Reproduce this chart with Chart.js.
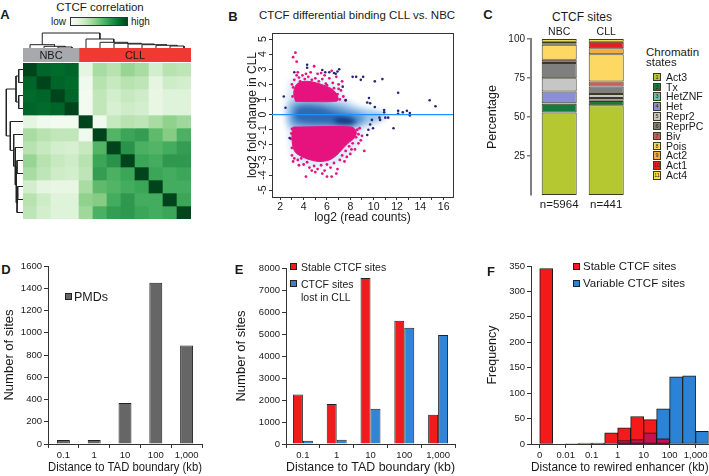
<!DOCTYPE html>
<html><head><meta charset="utf-8">
<script src="https://cdn.jsdelivr.net/npm/chart.js@4.4.1/dist/chart.umd.min.js"></script>
<style>
html,body{margin:0;padding:0;background:#fff}
body{position:relative;width:709px;height:476px;overflow:hidden;font-family:"Liberation Sans",Arial,Helvetica,sans-serif;color:#1a1a1a}
canvas{position:absolute}
.tx{position:absolute;white-space:nowrap;line-height:1}
.sw{position:absolute;box-sizing:border-box;border:1px solid #222}
</style></head><body>
<script>
// ================= DATA =================
// Panel A: CTCF correlation heatmap
const heatSamples=['NBC 1','NBC 2','NBC 3','NBC 4','CLL 1','CLL 2','CLL 3','CLL 4','CLL 5','CLL 6','CLL 7','CLL 8'];
const sampleGroups=['NBC','CLL'];
const groupSizes=[4,8];
const corrMatrix=[
[1.00,0.90,0.88,0.90,0.12,0.35,0.30,0.40,0.35,0.20,0.30,0.28],
[0.90,1.00,0.90,0.88,0.05,0.30,0.25,0.30,0.28,0.12,0.22,0.20],
[0.88,0.90,1.00,0.90,0.03,0.27,0.20,0.25,0.22,0.10,0.15,0.15],
[0.90,0.88,0.90,1.00,0.03,0.27,0.18,0.22,0.20,0.10,0.15,0.15],
[0.12,0.05,0.03,0.03,1.00,0.05,0.25,0.30,0.28,0.35,0.42,0.38],
[0.35,0.30,0.27,0.27,0.05,1.00,0.58,0.65,0.68,0.55,0.45,0.60],
[0.30,0.25,0.20,0.18,0.25,0.58,1.00,0.72,0.60,0.58,0.62,0.68],
[0.40,0.30,0.25,0.22,0.30,0.65,0.72,1.00,0.65,0.62,0.70,0.70],
[0.35,0.28,0.22,0.20,0.28,0.68,0.60,0.65,1.00,0.65,0.62,0.65],
[0.20,0.12,0.10,0.10,0.35,0.55,0.58,0.62,0.65,1.00,0.62,0.62],
[0.30,0.22,0.15,0.15,0.42,0.45,0.62,0.70,0.62,0.62,1.00,0.65],
[0.28,0.20,0.15,0.15,0.38,0.60,0.68,0.70,0.65,0.62,0.65,1.00]];
// dendrogram merges: [childA, childB, height]; ids 1..12 leaves, 13.. merged nodes
const colMerges=[[3,4,1.0],[2,13,1.7],[1,14,3.3],[11,12,2.0],[10,16,2.7],[9,17,3.3],[8,18,4.0],[7,19,4.7],[6,20,5.7],[5,21,9.0],[15,22,15.0]];
const rowMerges=[[1,2,4.3],[3,4,4.3],[13,14,7.0],[10,11,5.3],[16,12,6.0],[8,9,6.0],[18,17,6.7],[7,19,7.7],[6,20,9.3],[5,21,12.7],[15,22,16.7]];

// Panel B: MA plot (log2 read counts, log2 fold change)
const maDensityLevels=[
[[2.7,2.3],[4,2.5],[5.5,2.3],[6.8,2.0],[7.5,1.3],[8.5,0.7],[10,0.4],[11.3,0.1],[11,-0.4],[9.2,-1.0],[8.9,-1.8],[8,-2.6],[6.8,-3.3],[5,-3.5],[3.5,-3.2],[2.8,-2.5],[2.6,-1.2],[2.3,0],[2.5,1.2],[2.7,2.3]],
[[2.5,0.2],[2.8,0.9],[3.5,1.1],[5,1.05],[6.5,0.95],[7.6,0.75],[8.6,0.45],[9.8,0.25],[10.8,0.05],[10.5,-0.35],[9.3,-0.7],[8.4,-0.95],[7,-1.0],[5,-1.0],[3.5,-1.0],[2.7,-0.8],[2.5,0.2]],
[[2.9,0.15],[3.1,0.6],[3.8,0.8],[5.5,0.75],[6.8,0.55],[7.8,0.3],[8.8,0.05],[9.3,-0.2],[8.9,-0.55],[7.8,-0.8],[6,-0.82],[4,-0.82],[3.1,-0.65],[2.9,-0.3],[2.9,0.15]],
[[3.3,0.2],[3.6,0.5],[4.5,0.55],[5.5,0.45],[6.5,0.2],[7.3,0.0],[8.2,-0.15],[8.6,-0.4],[8.3,-0.65],[7.2,-0.7],[6,-0.6],[4.5,-0.55],[3.5,-0.4],[3.2,-0.1],[3.3,0.2]],
[[6.6,-0.3],[7.2,-0.18],[8.0,-0.25],[8.4,-0.45],[8.1,-0.65],[7.3,-0.65],[6.7,-0.5],[6.6,-0.3]]];
const maUpperCore=[[3.3,0.88],[3.15,1.4],[3.3,1.9],[3.7,2.15],[4.4,2.2],[5.1,2.1],[5.7,1.95],[6.3,1.75],[6.8,1.4],[6.95,0.95],[6.4,0.86],[5,0.86],[3.3,0.88]];
const maLowerCore=[[3.1,-0.82],[8.1,-0.82],[8.5,-1.1],[8.4,-1.5],[7.8,-1.9],[7.3,-2.3],[6.8,-2.7],[6.2,-3.0],[5.4,-3.1],[4.6,-3.0],[3.9,-2.8],[3.3,-2.5],[3.05,-2.0],[3.0,-1.3],[3.1,-0.82]];
const maSigPoints=[[3.1,3.8],[3.3,4.1],[3.4,3.5],[3.5,2.8],[3.2,2.3],[3.6,2.45],[3.9,2.6],[4.1,2.35],[4.4,2.5],[4.7,2.3],[5.0,2.4],[5.3,2.2],[5.6,2.35],[5.9,2.05],[6.2,2.4],[6.5,2.1],[6.8,2.5],[7.0,2.0],[7.2,1.6],[6.9,1.35],[7.4,1.2],[7.6,0.95],[6.6,1.75],[6.0,1.95],[3.1,1.8],[3.05,1.2],[3.0,2.0],[4.6,2.8],[5.2,2.7],[5.8,2.6],[6.4,2.9],[4.9,3.2],[3.7,2.2],[7.1,1.0],[5.5,2.75],[3.4,2.6],[4.2,2.7],[7.3,2.2],[6.1,1.5],[7.0,1.7],
[2.9,-1.6],[3.0,-2.2],[3.0,-2.7],[3.2,-2.9],[3.5,-3.0],[3.8,-2.9],[4.0,-3.3],[4.3,-3.15],[4.5,-3.5],[4.9,-3.4],[5.2,-3.6],[5.5,-3.35],[5.8,-3.7],[6.0,-3.3],[6.3,-3.5],[6.6,-3.2],[6.9,-3.6],[7.1,-3.0],[7.3,-2.7],[7.6,-2.4],[7.9,-2.1],[8.2,-1.9],[8.5,-1.5],[8.7,-1.3],[8.9,-1.7],[8.4,-2.3],[9.2,-2.4],[4.2,-4.1],[6.0,-4.1],[6.4,-4.1],[6.8,-3.9],[5.0,-3.8],[3.6,-3.35],[7.5,-3.1],[8.0,-2.6],[8.6,-1.0],[8.8,-0.9],[3.0,-0.95],[5.6,-3.9],[4.7,-3.7],[2.95,-1.25],[3.1,-3.1],[7.7,-2.8],[8.1,-2.3],[8.7,-1.9],[9.0,-1.4]];
const maOtherPoints=[[2.3,1.2],[2.45,0.45],[3.2,2.8],[4.3,3.3],[4.3,3.1],[5.6,2.95],[5.85,2.8],[6.2,2.8],[6.6,2.75],[6.75,2.7],[7.05,3.0],[6.9,2.85],[7.35,1.85],[7.6,0.95],[8.2,2.5],[8.5,2.5],[8.9,2.3],[9.1,2.5],[9.45,0.8],[9.6,1.1],[9.7,0.75],[10.1,0.5],[10.1,2.2],[10.75,2.35],[10.9,0.3],[10.9,0.15],[10.5,-0.2],[10.55,-0.35],[11.0,-0.2],[11.25,-0.2],[12.1,1.45],[12.1,0.25],[12.1,0.05],[12.5,0.15],[12.85,0.25],[13.1,0.1],[13.1,-0.05],[11.7,-0.9],[14.8,0.95],[15.3,0.55],[9.85,-0.35],[9.7,-0.65],[9.95,-0.9],[9.55,-1.0],[9.45,-1.35],[2.8,-1.55]];
const bXRange=[1.29,16.8], bYRange=[-5.45,5.4];

// Panel C: chromatin states of CTCF sites (%)
const chromStates=['Act3','Tx','HetZNF','Het','Repr2','ReprPC','Biv','Pois','Act2','Act1','Act4'];
const cGroups=['NBC','CLL'];
const cCounts=['n=5964','n=441'];
const nbcPct=[52.9,5.6,0.3,7.5,8.6,9.7,2.1,9.6,0.6,1.3,1.8];
const cllPct=[57.6,2.6,0.2,1.7,2.6,4.8,3.2,17.6,3.8,4.1,1.8];
const cTicks=[25,50,75,100];

// Panel D/E: distance to TAD boundary
const tadBins=['0.1','1','10','100','1,000'];
const pmdCounts=[35,35,368,1450,885];
const stableTad=[2250,1820,7550,5600,1330];
const lostTad=[150,190,1600,5280,4950];

// Panel F: distance to rewired enhancer histogram (13 half-decade bins)
const enhTickLabels=['0','0.01','0.1','1','10','100','1,000'];
const enhTickBins=[0,2,4,6,8,10,12];
const stableEnh=[345,0,1,2,2,22,32,54,48,10,0,0,0];
const variableEnh=[0,0,0,0,1,0,6.5,8.5,22,69,132,134,25];

// ================= STYLE =================
const greenStops=['#f7fcf5','#e5f5e0','#c7e9c0','#a1d99b','#74c476','#41ab5d','#238b45','#006d2c','#00441b'];
const stateColors=['#b5c832','#167a3c','#66c2a5','#8b90d0','#c6c6c6','#7f7f7f','#cd5c5c','#fdd862','#f4ad3c','#e3201c','#f6e531'];
const FONT='"Liberation Sans", Arial, Helvetica, sans-serif';
Chart.defaults.font.family=FONT;
Chart.defaults.font.size=10;
Chart.defaults.color='#1a1a1a';
Chart.defaults.animation=false;
Chart.defaults.responsive=false;
Chart.defaults.devicePixelRatio=1;
Chart.defaults.events=[];
Chart.defaults.plugins.legend.display=false;
Chart.defaults.plugins.tooltip.enabled=false;

function canvas(l,t,w,h,extra){const c=document.createElement('canvas');c.width=w;c.height=h;c.style.cssText=`left:${l}px;top:${t}px;width:${w}px;height:${h}px;${extra||''}`;document.body.appendChild(c);return c.getContext('2d');}
function text(s,x,y,size,o={}){const d=document.createElement('div');d.className='tx';d.textContent=s;
  d.style.cssText=`left:${x}px;top:${y}px;font-size:${size}px;font-weight:${o.bold?'bold':'normal'};color:${o.color||'#1a1a1a'};transform:translate(${o.ax===undefined?-50:o.ax}%,-50%)${o.rot?' rotate(-90deg)':''}`;
  document.body.appendChild(d);return d;}
function swatch(x,y,w,h,color){const d=document.createElement('div');d.className='sw';d.style.cssText=`left:${x}px;top:${y}px;width:${w}px;height:${h}px;background:${color}`;document.body.appendChild(d);return d;}
function hex2rgb(h){return [1,3,5].map(i=>parseInt(h.slice(i,i+2),16));}
function greens(v){const s=greenStops.map(hex2rgb);const t=Math.max(0,Math.min(1,v))*(s.length-1);const i=Math.min(Math.floor(t),s.length-2);const f=t-i;return 'rgb('+s[i].map((a,k)=>Math.round(a+(s[i+1][k]-a)*f)).join(',')+')';}
function dendroSegs(merges,n){const pos={},hgt={};for(let i=1;i<=n;i++){pos[i]=i;hgt[i]=0;}
  return merges.map((m,k)=>{const id=n+1+k;const [a,b,h]=m;pos[id]=(pos[a]+pos[b])/2;hgt[id]=h;return [[pos[a],hgt[a]],[pos[a],h],[pos[b],h],[pos[b],hgt[b]]];});}
const pts=a=>a.map(([x,y])=>({x,y}));
const plain=v=>String(v);

// ================= PANEL A =================
text('A',5,14,13,{bold:true});
text('CTCF correlation',100,8,11.5);
text('low',66,22,10,{ax:-100});
(function(){const d=document.createElement('div');d.style.cssText=`position:absolute;left:70px;top:17px;width:58px;height:9px;box-sizing:border-box;border:1px solid #333;background:linear-gradient(to right,${greenStops.join(',')})`;document.body.appendChild(d);})();
text('high',131,22,10,{ax:0});

// top dendrogram (columns)
new Chart(canvas(23,30,168,18),{type:'scatter',
  data:{datasets:dendroSegs(colMerges,12).map(s=>({data:s.map(([p,h])=>({x:p,y:h})),showLine:true,borderColor:'#222',borderWidth:1,pointRadius:0,clip:false}))},
  options:{layout:{padding:0},scales:{x:{display:false,min:0.5,max:12.5},y:{display:false,min:0,max:18}}}});
// left dendrogram (rows)
new Chart(canvas(4,63,19,156),{type:'scatter',
  data:{datasets:dendroSegs(rowMerges,12).map(s=>({data:s.map(([p,h])=>({x:h,y:p})),showLine:true,borderColor:'#222',borderWidth:1,pointRadius:0,clip:false}))},
  options:{layout:{padding:0},scales:{x:{display:false,min:0,max:19,reverse:true},y:{display:false,min:0.5,max:12.5,reverse:true}}}});
// group annotation bar
const barTextPlugin={id:'barText',afterDatasetsDraw(chart){const ctx=chart.ctx;ctx.save();ctx.font='11px '+FONT;ctx.fillStyle='#1a1a1a';ctx.textAlign='center';ctx.textBaseline='middle';
  chart.data.datasets.forEach((ds,i)=>{const el=chart.getDatasetMeta(i).data[0];ctx.fillText(ds.label,(el.x+el.base)/2,el.y+1);});ctx.restore();}};
new Chart(canvas(23,48,168,14),{type:'bar',
  data:{labels:['group'],datasets:sampleGroups.map((g,i)=>({label:g,data:[groupSizes[i]],backgroundColor:i===0?'#a7a9ac':'#ee3a30',borderWidth:0,barPercentage:1,categoryPercentage:1}))},
  options:{indexAxis:'y',layout:{padding:0},scales:{x:{display:false,stacked:true,min:0,max:12},y:{display:false,stacked:true}}},plugins:[barTextPlugin]});
// heatmap
new Chart(canvas(23,63,168,156),{type:'bar',
  data:{labels:heatSamples,datasets:corrMatrix.map((row,r)=>({label:heatSamples[r],data:row.map(()=>[r,r+1]),backgroundColor:row.map(greens),borderWidth:0,grouped:false,barPercentage:1,categoryPercentage:1}))},
  options:{layout:{padding:0},scales:{x:{display:false},y:{display:false,min:0,max:12,reverse:true}}}});

// ================= PANEL B =================
text('B',233,15.5,13,{bold:true});
text('CTCF differential binding CLL vs. NBC',357,16,11.5);
// smoothed density layer
new Chart(canvas(272,33,181,164,'filter:blur(2.5px)'),{type:'scatter',
  data:{datasets:maDensityLevels.map((lv,i)=>({type:'line',data:pts(lv),fill:'shape',tension:0.35,pointRadius:0,borderWidth:0,
    backgroundColor:['rgba(160,200,235,0.35)','rgba(110,165,220,0.55)','rgba(50,120,195,0.6)','rgba(25,80,160,0.65)','rgba(10,45,110,0.8)'][i],order:10-i}))},
  options:{layout:{padding:0},scales:{x:{display:false,min:bXRange[0],max:bXRange[1]},y:{display:false,min:bYRange[0],max:bYRange[1]}}}});
const MAG='#e6137f';
new Chart(canvas(228,25,235,200),{type:'scatter',
  data:{datasets:[
    {label:'zero',type:'line',data:[{x:bXRange[0],y:0},{x:bXRange[1],y:0}],borderColor:'#1e8fff',borderWidth:1.3,pointRadius:0,order:0},
    {label:'other',data:pts(maOtherPoints),backgroundColor:'#26267a',pointRadius:1.3,borderWidth:0,order:1},
    {label:'significant',data:pts(maSigPoints),backgroundColor:MAG,pointRadius:1.4,borderWidth:0,order:2},
    {label:'significant up (dense)',type:'line',data:pts(maUpperCore),fill:'shape',tension:0.3,backgroundColor:MAG,borderColor:MAG,borderWidth:1,pointRadius:0,order:3},
    {label:'significant down (dense)',type:'line',data:pts(maLowerCore),fill:'shape',tension:0.3,backgroundColor:MAG,borderColor:MAG,borderWidth:1,pointRadius:0,order:4}
  ]},
  options:{layout:{padding:{top:8,right:10}},scales:{
    x:{type:'linear',min:bXRange[0],max:bXRange[1],ticks:{stepSize:1,includeBounds:false,callback:v=>v%2===0?String(v):'',font:{size:10.5},padding:1,maxRotation:0,autoSkip:false},
       grid:{drawOnChartArea:false,tickLength:3,color:'#333'},border:{color:'#333'},title:{display:true,text:'log2 (read counts)',font:{size:12},padding:{top:0,bottom:0}},afterFit(s){s.height=28;}},
    y:{type:'linear',min:bYRange[0],max:bYRange[1],ticks:{stepSize:1,includeBounds:false,callback:plain,minRotation:90,maxRotation:90,crossAlign:'center',font:{size:10.5},padding:1},
       grid:{drawOnChartArea:false,tickLength:3,color:'#333'},border:{color:'#333'},title:{display:true,text:'log2 fold change in CLL',font:{size:12},padding:{top:17,bottom:0}},afterFit(s){s.width=44;}},
    xt:{type:'linear',position:'top',min:bXRange[0],max:bXRange[1],ticks:{display:false},grid:{display:false},border:{color:'#333'},afterFit(s){s.height=0;}},
    yr:{type:'linear',position:'right',min:bYRange[0],max:bYRange[1],ticks:{display:false},grid:{display:false},border:{color:'#333'},afterFit(s){s.width=0;}}
  }}});

// ================= PANEL C =================
text('C',488,14,13,{bold:true});
text('CTCF sites',582,17,12);
new Chart(canvas(470,22,170,193),{type:'bar',
  data:{datasets:chromStates.map((s,i)=>({label:s,data:[{x:1,y:nbcPct[i]},{x:2,y:cllPct[i]}],backgroundColor:stateColors[i],borderColor:'#3b3b22',borderWidth:1,borderSkipped:false,barPercentage:1,categoryPercentage:0.745}))},
  options:{layout:{padding:{right:10}},scales:{
    x:{type:'linear',position:'bottom',stacked:true,min:0.4,max:2.506,offset:false,grid:{display:false,drawTicks:false,tickLength:0,offset:false},border:{display:false},
       afterBuildTicks(s){s.ticks=[{value:1},{value:2}];},ticks:{callback:v=>cCounts[v-1],font:{size:11.5},padding:3,maxRotation:0,autoSkip:false},afterFit(s){s.height=20;}},
    xt:{type:'linear',position:'top',min:0.4,max:2.506,offset:false,grid:{display:false,drawTicks:false,tickLength:0},border:{display:false},
       afterBuildTicks(s){s.ticks=[{value:1},{value:2}];},ticks:{callback:v=>cGroups[v-1],font:{size:10.5},padding:1,maxRotation:0,autoSkip:false},afterFit(s){s.height=17;}},
    y:{stacked:true,min:0,max:100,afterBuildTicks(s){s.ticks=cTicks.map(v=>({value:v}));},ticks:{font:{size:10},padding:2,callback:plain},
       grid:{drawOnChartArea:false,tickLength:4,color:'#7f7f7f',lineWidth:1.5},border:{color:'#7f7f7f',width:2},
       title:{display:true,text:'Percentage',font:{size:12.5},padding:{top:15,bottom:0}},afterFit(s){s.width=61;}}
  }}});
text('Chromatin',646,52.5,11.5,{ax:0});
text('states',646,62.5,11.5,{ax:0});
chromStates.forEach((s,i)=>{const y=76.7+i*9.83;const b=swatch(653,y-4,8,8.5,stateColors[i]);b.style.borderColor='#3b3b22';
  const n=document.createElement('div');n.textContent=String(i+1);n.style.cssText='position:absolute;left:0;right:0;top:0;bottom:0;font-size:5.5px;line-height:7px;text-align:center;color:#3a2a10';b.appendChild(n);
  text(s,666,y,10.5,{ax:0});});

// ================= PANEL D =================
text('D',6,269,13,{bold:true});
function tadScales(yMax,yStep,yWidth,titlePad){return {
  x:{grid:{display:true,drawOnChartArea:false,offset:true,tickLength:4,color:'#333'},border:{color:'#333'},ticks:{font:{size:9.5},padding:1.5,maxRotation:0},
     title:{display:true,text:'Distance to TAD boundary (kb)',font:{size:13},padding:{top:0,bottom:0.5}},afterFit(s){s.height=32;}},
  y:{min:0,max:yMax,ticks:{stepSize:yStep,font:{size:9.5},padding:2,callback:plain},grid:{drawOnChartArea:false,tickLength:4,color:'#333'},border:{color:'#333'},
     title:{display:true,text:'Number of sites',font:{size:13},padding:{top:titlePad,bottom:0}},afterFit(s){s.width=yWidth;}}};}
new Chart(canvas(0,256,212,220),{type:'bar',
  data:{labels:tadBins,datasets:[{label:'PMDs',data:pmdCounts,backgroundColor:'#666666',borderColor:'#222',borderWidth:1,categoryPercentage:0.42,barPercentage:1}]},
  options:{layout:{padding:{top:10,right:10}},scales:tadScales(1600,200,48,1.2)}});
swatch(65,293,7,7,'#666666');
text('PMDs',74,297,12.5,{ax:0});

// ================= PANEL E =================
text('E',239,269,13,{bold:true});
new Chart(canvas(232,256,233,220),{type:'bar',
  data:{labels:tadBins,datasets:[
    {label:'Stable CTCF sites',data:stableTad,backgroundColor:'#ee1c1c',borderColor:'#222',borderWidth:1,categoryPercentage:0.59,barPercentage:1},
    {label:'CTCF sites lost in CLL',data:lostTad,backgroundColor:'#2f86d8',borderColor:'#222',borderWidth:1,categoryPercentage:0.59,barPercentage:1}]},
  options:{layout:{padding:{top:12,right:10}},scales:tadScales(8000,1000,54,1.2)}});
swatch(290,263,7,7,'#ee1c1c');
text('Stable CTCF sites',301,266.5,10.5,{ax:0});
swatch(290,280,7,7,'#2f86d8');
text('CTCF sites',301,284,10.5,{ax:0});
text('lost in CLL',301,296.5,10.5,{ax:0});

// ================= PANEL F =================
text('F',491,271,13,{bold:true});
const overlapEnh=stableEnh.map((v,i)=>Math.min(v,variableEnh[i]));
const binData=a=>a.map((v,i)=>({x:i+0.5,y:v>0?v:null}));
const fBar={borderColor:'#1a1a1a',borderWidth:1,borderSkipped:false,barPercentage:1,categoryPercentage:1,grouped:false};
new Chart(canvas(470,256,239,220),{type:'bar',
  data:{datasets:[
    Object.assign({label:'overlap',data:binData(overlapEnh),backgroundColor:'#c3124f',order:0},fBar),
    Object.assign({label:'Stable CTCF sites',data:binData(stableEnh),backgroundColor:'#f51a1a',order:1},fBar),
    Object.assign({label:'Variable CTCF sites',data:binData(variableEnh),backgroundColor:'#2a83d6',order:2},fBar)]},
  options:{layout:{padding:{top:10,right:0}},scales:{
    x:{type:'linear',min:-0.67,max:13,offset:false,afterBuildTicks(s){s.ticks=enhTickBins.map(v=>({value:v}));},
       ticks:{callback:v=>enhTickLabels[enhTickBins.indexOf(v)],font:{size:9.5},padding:1.5,maxRotation:0,autoSkip:false},
       grid:{drawOnChartArea:false,offset:false,tickLength:4,color:'#333'},border:{color:'#333'},
       title:{display:true,text:'Distance to rewired enhancer (kb)',font:{size:12.5},padding:{top:0,bottom:0.5}},afterFit(s){s.height=32;}},
    y:{min:0,max:350,ticks:{stepSize:50,font:{size:9.5},padding:2,callback:plain},grid:{drawOnChartArea:false,tickLength:4,color:'#333'},border:{color:'#333'},
       title:{display:true,text:'Frequency',font:{size:12.5},padding:{top:15,bottom:0}},afterFit(s){s.width=61;}}
  }}});
swatch(573,263,7,7,'#f51a1a');
text('Stable CTCF sites',583,266.5,11.5,{ax:0});
swatch(573,280,7,7,'#2a83d6');
text('Variable CTCF sites',583,283.5,11.5,{ax:0});
</script></body></html>
